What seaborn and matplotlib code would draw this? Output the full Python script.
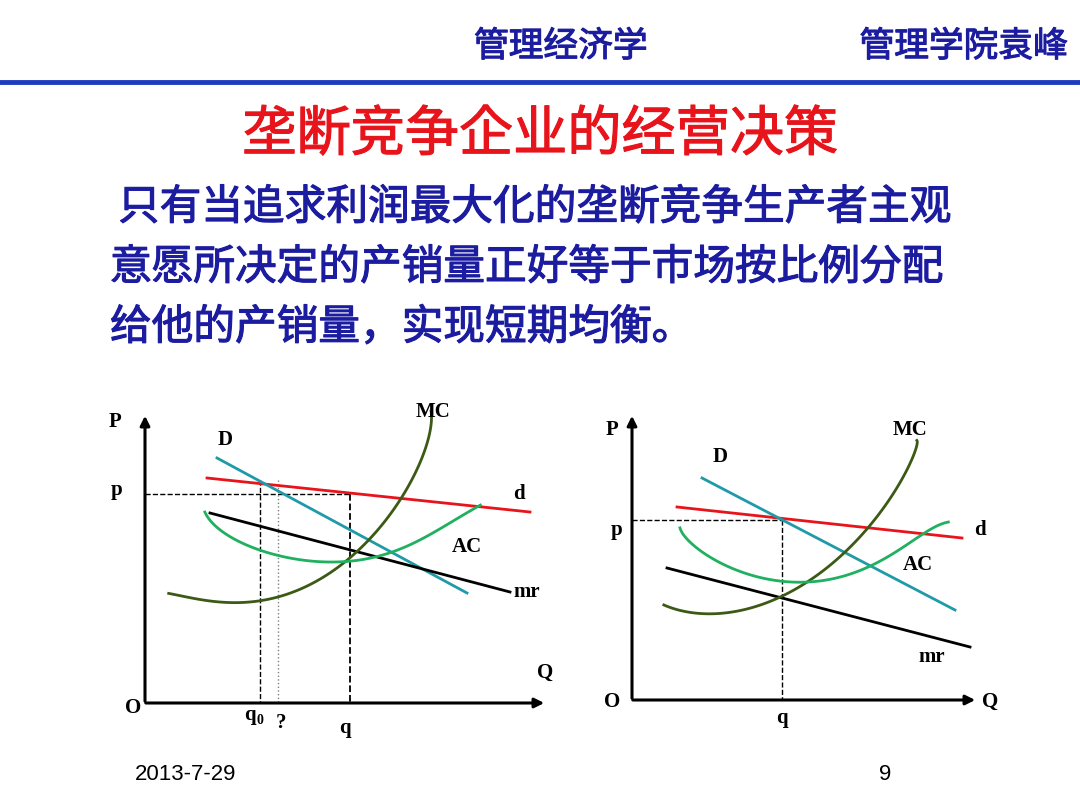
import numpy as np
import pandas as pd
import matplotlib.pyplot as plt
import matplotlib.patheffects as pe
import seaborn as sns

# ---------- data (slide pixel coordinates) ----------

# left diagram
L_D_x = [217, 467];  L_D_y = [458, 593]
L_d_x = [207, 530];  L_d_y = [478, 512]
L_mr_x = [210, 510]; L_mr_y = [513, 592]
L_MC_x = [168, 200, 235, 270, 310, 350, 385, 410, 425, 432]
L_MC_y = [593, 600, 603, 598, 583, 558, 525, 485, 440, 412]
L_AC_x = [205, 230, 270, 320, 360, 400, 440, 480]
L_AC_y = [512, 537, 553, 562, 560, 548, 530, 505]

# right diagram
R_D_x = [702, 955];  R_D_y = [478, 610]
R_d_x = [677, 962];  R_d_y = [507, 538]
R_mr_x = [667, 970]; R_mr_y = [568, 647]
R_MC_x = [662, 700, 730, 770, 810, 850, 880, 900, 912, 918]
R_MC_y = [605, 613, 612, 600, 580, 550, 515, 480, 455, 440]
R_AC_x = [680, 700, 740, 790, 840, 880, 920, 948]
R_AC_y = [528, 550, 572, 582, 577, 560, 537, 522]

body_lines = ["只有当追求利润最大化的垄断竞争生产者主观",
              "意愿所决定的产销量正好等于市场按比例分配",
              "给他的产销量，实现短期均衡。"]

CJK = ["Noto Sans CJK SC", "Noto Sans CJK JP", "DejaVu Sans"]
SERIF = "Liberation Serif"
BLUE = "#1c1ca0"


def cjk_text(ax, x, y, s, size, color, **kw):
    t = ax.text(x, y, s, fontfamily=CJK, fontsize=size, color=color, va="center", **kw)
    t.set_path_effects([pe.withStroke(linewidth=0.8, foreground=color)])
    return t


def curve(ax, xs, ys, color, lw=2):
    df = pd.DataFrame({"x": xs, "y": ys})
    if len(xs) > 2:
        t = np.linspace(0, 1, len(xs))
        tt = np.linspace(0, 1, 120)
        cx = np.polyfit(t, xs, 4); cy = np.polyfit(t, ys, 4)
        df = pd.DataFrame({"x": np.polyval(cx, tt), "y": np.polyval(cy, tt)})
    sns.lineplot(data=df, x="x", y="y", ax=ax, color=color, lw=lw, sort=False, estimator=None)


fig = plt.figure(figsize=(10.8, 8.1), dpi=100)
ax = fig.add_axes([0, 0, 1, 1])
ax.set_xlim(0, 1080); ax.set_ylim(810, 0); ax.axis("off")

# header
cjk_text(ax, 474, 47, "管理经济学", 25, BLUE)
cjk_text(ax, 1068, 47, "管理学院袁峰", 25, BLUE, ha="right")
ax.plot([0, 1080], [82, 82], color="#1c3cc0", lw=3.5)

# title and body
cjk_text(ax, 540, 135, "垄断竞争企业的经营决策", 39, "#e8141c", ha="center")
for i, s in enumerate(body_lines):
    cjk_text(ax, 118 if i == 0 else 110, 208 + 60 * i, s, 30, BLUE)

# axes arrows
arrow = dict(arrowstyle="-|>", color="black", lw=2.2, mutation_scale=14)
ax.annotate("", xy=(145, 413), xytext=(145, 704), arrowprops=arrow)
ax.annotate("", xy=(547, 703), xytext=(143, 703), arrowprops=arrow)
ax.annotate("", xy=(632, 413), xytext=(632, 701), arrowprops=arrow)
ax.annotate("", xy=(978, 700), xytext=(630, 700), arrowprops=arrow)

# guide lines
ax.plot([145, 350], [494, 494], "k--", lw=1)
ax.plot([350, 350], [494, 703], "k--", lw=1.3)
ax.plot([260, 260], [480, 703], "k--", lw=1)
ax.plot([278, 278], [480, 703], color="gray", ls=":", lw=1)
ax.plot([632, 782], [520, 520], "k--", lw=1)
ax.plot([782, 782], [520, 700], "k--", lw=1)

# curves
for xs, ys, c in [(L_d_x, L_d_y, "#e8141c"), (L_D_x, L_D_y, "#1f9aa8"), (L_mr_x, L_mr_y, "black"),
                  (L_MC_x, L_MC_y, "#3c5a14"), (L_AC_x, L_AC_y, "#1fb060"),
                  (R_d_x, R_d_y, "#e8141c"), (R_D_x, R_D_y, "#1f9aa8"), (R_mr_x, R_mr_y, "black"),
                  (R_MC_x, R_MC_y, "#3c5a14"), (R_AC_x, R_AC_y, "#1fb060")]:
    curve(ax, xs, ys, c)

# diagram labels
labels = [(115, 422, "P"), (133, 708, "O"), (545, 673, "Q"), (117, 490, "p"), (225, 440, "D"),
          (433, 412, "MC"), (519, 494, "d"), (467, 547, "AC"), (527, 592, "mr"),
          (250, 715, "q"), (281, 723, "?"), (345, 728, "q"),
          (612, 430, "P"), (612, 702, "O"), (990, 702, "Q"), (617, 530, "p"), (720, 457, "D"),
          (910, 430, "MC"), (980, 530, "d"), (918, 565, "AC"), (932, 657, "mr"), (782, 718, "q")]
for x, y, s in labels:
    ax.text(x, y, s, fontfamily=SERIF, fontweight="bold", fontsize=15, ha="center", va="center")
ax.text(260, 720, "0", fontfamily=SERIF, fontweight="bold", fontsize=10, ha="center", va="center")

# footer
ax.text(135, 775, "2013-7-29", fontfamily="Liberation Sans", fontsize=16, va="center")
ax.text(885, 775, "9", fontfamily="Liberation Sans", fontsize=16, va="center", ha="center")

fig.savefig("out.png", dpi=100)
